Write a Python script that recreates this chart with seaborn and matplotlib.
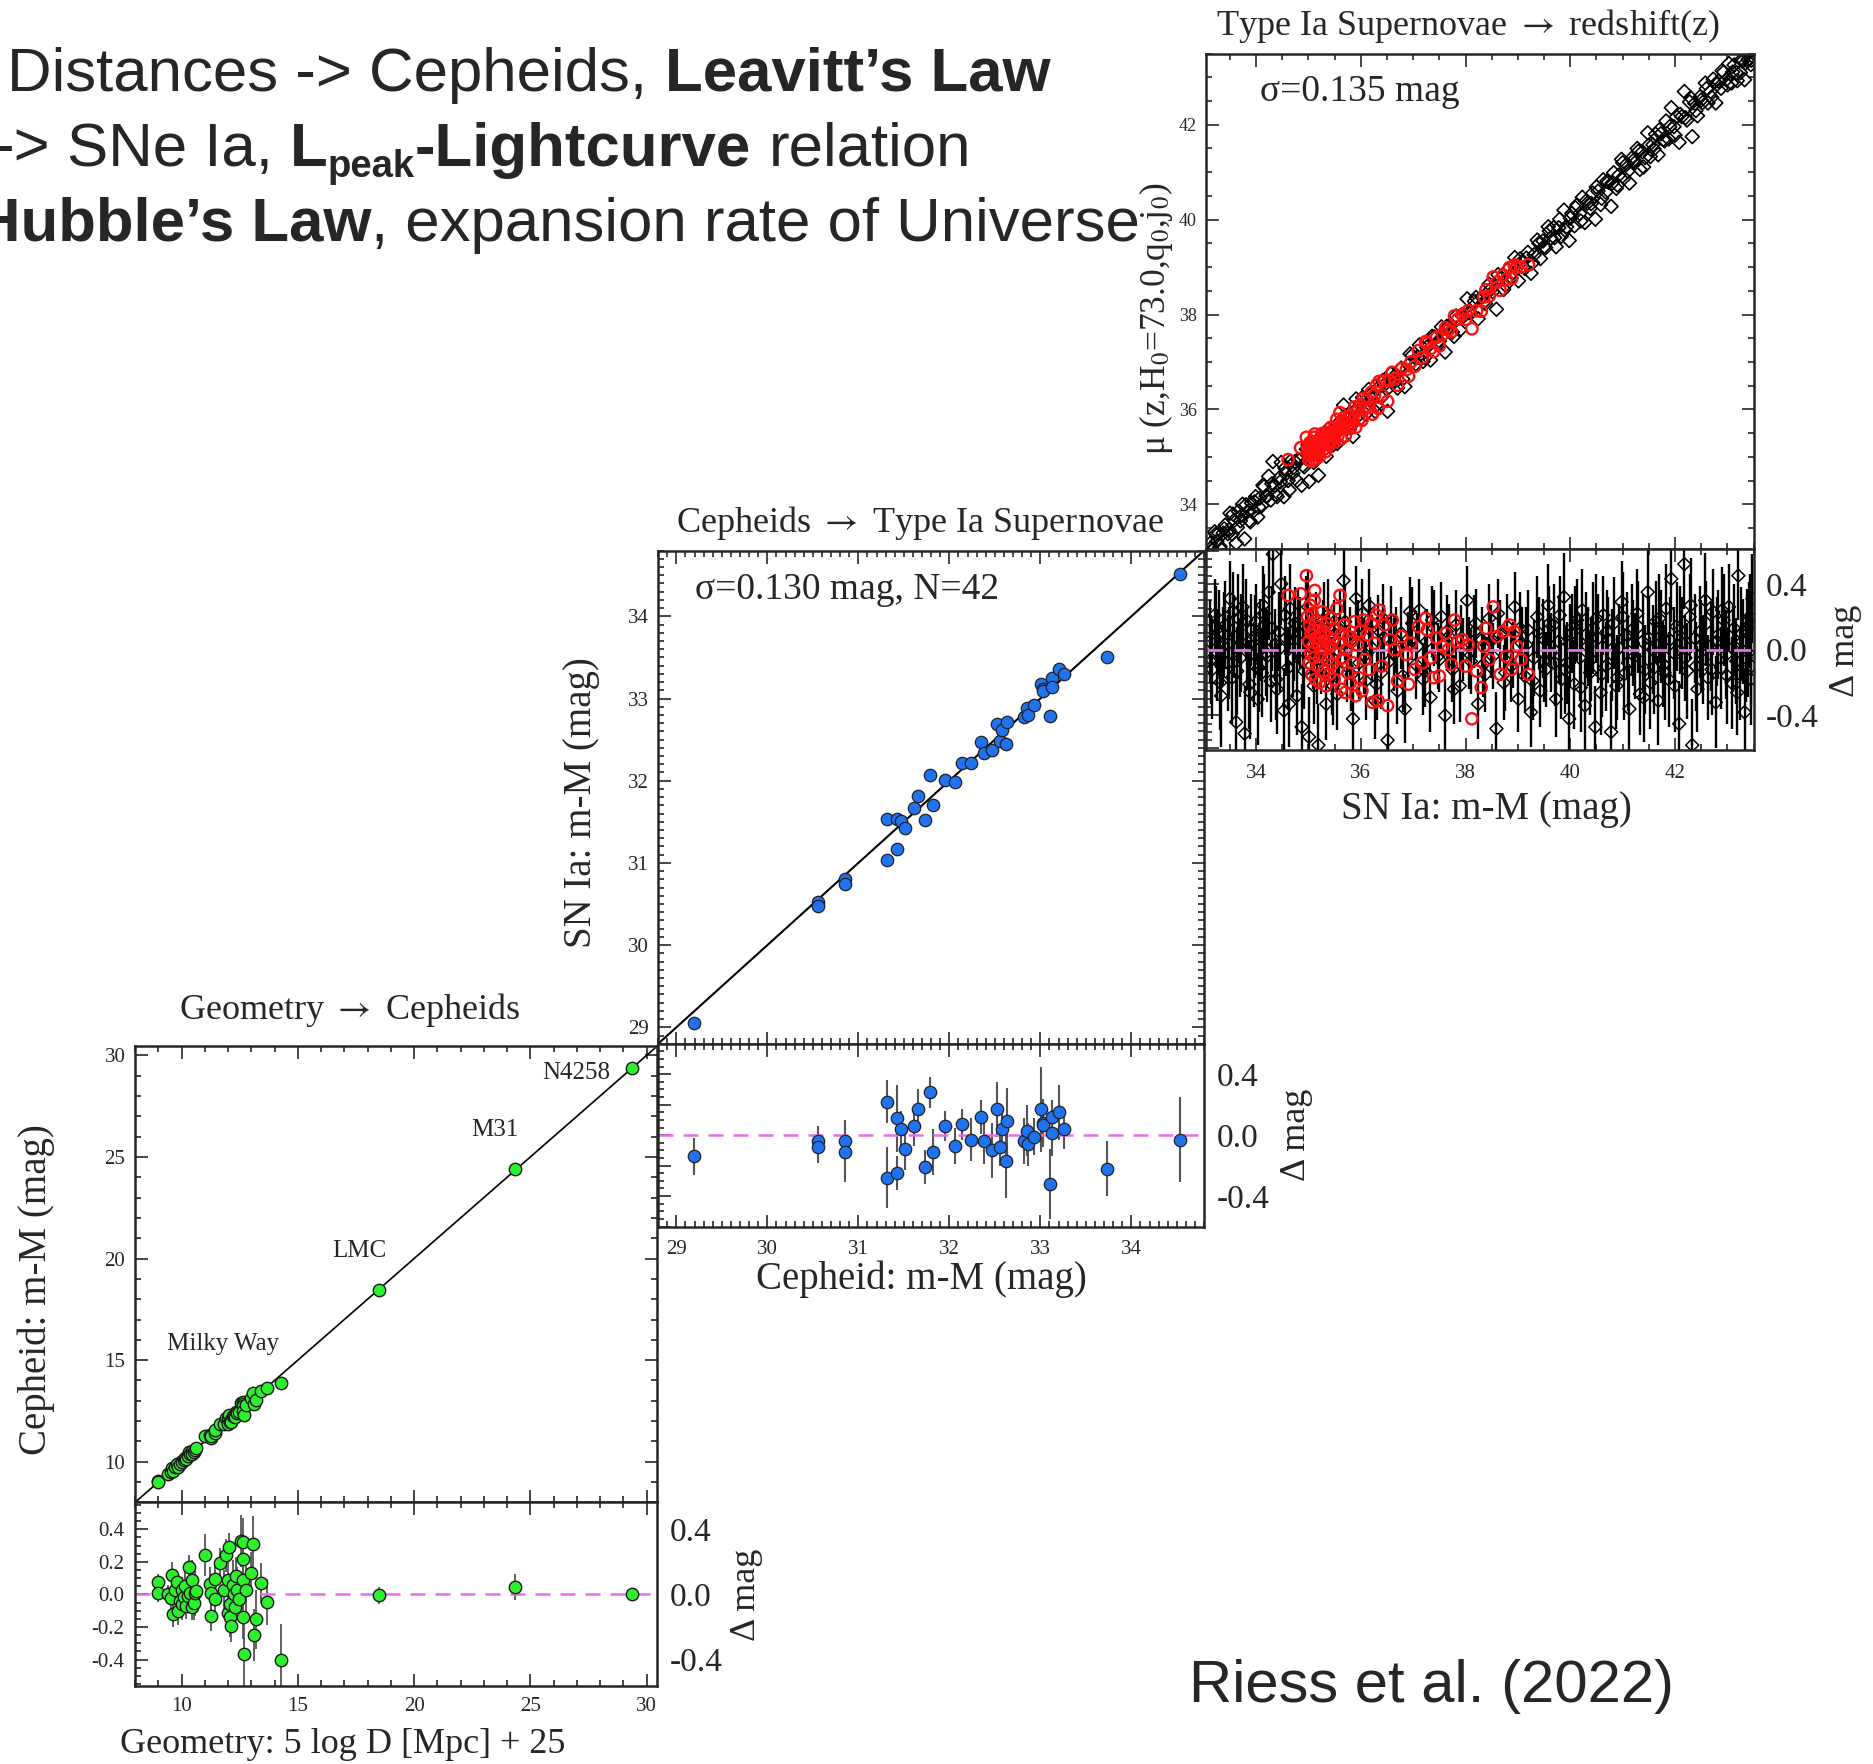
import matplotlib
matplotlib.use("Agg")
import matplotlib.pyplot as plt
from matplotlib.ticker import MultipleLocator
import numpy as np
import pandas as pd
import seaborn as sns

# ---------------- data ----------------
# Geometry -> Cepheids: Milky Way parallaxes, then LMC, M31, N4258
geo_x = [9.00, 9.00, 9.40, 9.53, 9.57, 9.64, 9.72, 9.79, 9.83, 9.94,
         10.00, 10.04, 10.10, 10.15, 10.20, 10.28, 10.32, 10.36, 10.43, 10.47,
         10.53, 10.58, 10.64, 11.03, 11.24, 11.28, 11.28, 11.45, 11.45, 11.65,
         11.82, 11.92, 11.99, 11.99, 12.03, 12.07, 12.10, 12.14, 12.20, 12.24,
         12.29, 12.35, 12.39, 12.46, 12.56, 12.63, 12.63, 12.63, 12.63, 12.67,
         12.78, 12.99, 13.06, 13.10, 13.20, 13.42, 13.67, 14.27,
         18.48, 24.36, 29.38]
geo_dmag = [0.076, 0.006, 0.000, -0.020, 0.117, -0.119, 0.030, 0.076, -0.100, -0.040,
            0.025, -0.060, -0.014, 0.050, -0.070, -0.010, 0.170, 0.010, 0.090, -0.076,
            -0.050, 0.006, 0.020, 0.240, 0.066, -0.133, 0.006, -0.030, 0.096, 0.195,
            0.030, 0.240, 0.090, -0.113, 0.290, -0.060, -0.140, -0.195, 0.060, 0.000,
            -0.080, 0.110, 0.030, -0.030, 0.330, 0.320, 0.215, 0.090, -0.137, -0.365,
            0.025, 0.133, 0.310, -0.250, -0.154, 0.070, -0.045, -0.400,
            -0.006, 0.045, 0.004]
geo_err = [0.05, 0.05, 0.06, 0.07, 0.08, 0.08, 0.06, 0.07, 0.09, 0.07,
           0.08, 0.10, 0.07, 0.09, 0.08, 0.10, 0.07, 0.09, 0.12, 0.08,
           0.11, 0.14, 0.10, 0.13, 0.10, 0.09, 0.12, 0.11, 0.10, 0.09,
           0.12, 0.10, 0.13, 0.11, 0.09, 0.14, 0.12, 0.10, 0.15, 0.13,
           0.11, 0.12, 0.14, 0.10, 0.16, 0.15, 0.13, 0.12, 0.14, 0.20,
           0.15, 0.13, 0.17, 0.16, 0.18, 0.12, 0.14, 0.22,
           0.05, 0.08, 0.035]
anchor_names = ["Milky Way", "LMC", "M31", "N4258"]
anchor_lx = [11.78, 17.66, 23.47, 26.99]
anchor_ly = [15.78, 20.37, 26.34, 29.13]

# Cepheids -> SNe Ia, 42 calibrator hosts
ceph_x = [29.19, 30.56, 30.56, 30.85, 30.85, 31.31, 31.31, 31.42, 31.43, 31.47,
          31.51, 31.61, 31.65, 31.73, 31.79, 31.82, 31.95, 32.06, 32.14, 32.24,
          32.35, 32.38, 32.47, 32.52, 32.56, 32.58, 32.62, 32.63, 32.82, 32.85,
          32.86, 32.93, 33.01, 33.03, 33.03, 33.11, 33.13, 33.13, 33.21, 33.26,
          33.73, 34.54]
ceph_dmag = [-0.14, -0.04, -0.08, -0.04, -0.11, 0.22, -0.28, -0.25, 0.11, 0.04,
             -0.09, 0.06, 0.17, -0.21, 0.28, -0.11, 0.06, -0.07, 0.07, -0.03,
             0.12, -0.04, -0.10, 0.17, -0.08, 0.04, -0.17, 0.09, -0.04, 0.03,
             -0.06, -0.01, 0.17, 0.08, 0.065, -0.32, 0.12, 0.015, 0.15, 0.04,
             -0.22, -0.03]
ceph_err = [0.12, 0.10, 0.10, 0.14, 0.20, 0.14, 0.20, 0.11, 0.22, 0.12,
            0.14, 0.13, 0.13, 0.11, 0.10, 0.15, 0.10, 0.12, 0.10, 0.14,
            0.11, 0.15, 0.18, 0.18, 0.12, 0.14, 0.24, 0.22, 0.15, 0.17,
            0.14, 0.12, 0.28, 0.16, 0.12, 0.23, 0.11, 0.15, 0.18, 0.13,
            0.18, 0.28]

# SNe Ia -> redshift: Hubble-flow SNe (black diamonds)
sn_x = [33.12, 33.16, 33.21, 33.25, 33.29, 33.33, 33.37, 33.41, 33.46, 33.50,
        33.54, 33.58, 33.62, 33.66, 33.70, 33.74, 33.78, 33.83, 33.87, 33.91,
        33.95, 33.99, 34.03, 34.07, 34.11, 34.15, 34.19, 34.24, 34.28, 34.32,
        34.36, 34.40, 34.44, 34.48, 34.53, 34.57, 34.61, 34.65, 34.70, 34.74,
        34.78, 34.83, 34.87, 34.92, 34.96, 35.01, 35.05, 35.10, 35.15, 35.19,
        35.24, 35.29, 35.34, 35.39, 35.44, 35.49, 35.55, 35.61, 35.67, 35.73,
        35.79, 35.85, 35.91, 35.97, 36.03, 36.09, 36.15, 36.21, 36.27, 36.33,
        36.39, 36.45, 36.51, 36.57, 36.63, 36.70, 36.77, 36.84, 36.91, 36.98,
        37.05, 37.12, 37.19, 37.26, 37.33, 37.40, 37.47, 37.54, 37.61, 37.68,
        37.75, 37.82, 37.89, 37.96, 38.03, 38.10, 38.17, 38.24, 38.31, 38.38,
        38.45, 38.52, 38.59, 38.66, 38.73, 38.80, 38.87, 38.94, 39.01, 39.07,
        39.13, 39.19, 39.25, 39.31, 39.37, 39.43, 39.48, 39.53, 39.58, 39.63,
        39.68, 39.73, 39.78, 39.83, 39.88, 39.93, 39.98, 40.03, 40.08, 40.13,
        40.18, 40.23, 40.28, 40.33, 40.38, 40.43, 40.48, 40.53, 40.58, 40.63,
        40.68, 40.73, 40.78, 40.83, 40.88, 40.93, 40.98, 41.03, 41.08, 41.13,
        41.18, 41.23, 41.28, 41.33, 41.38, 41.43, 41.48, 41.53, 41.58, 41.63,
        41.68, 41.73, 41.78, 41.83, 41.88, 41.93, 41.98, 42.03, 42.08, 42.13,
        42.18, 42.23, 42.28, 42.33, 42.38, 42.43, 42.48, 42.53, 42.58, 42.63,
        42.68, 42.73, 42.78, 42.83, 42.88, 42.93, 42.98, 43.03, 43.08, 43.13,
        43.17, 43.21, 43.25, 43.29, 43.33, 43.37, 43.40, 43.43, 43.46, 43.48,
        33.14, 33.23, 33.31, 33.39, 33.48, 33.56, 33.64, 33.72, 33.81, 33.89,
        33.97, 34.05, 34.13, 34.21, 34.30, 34.38, 34.46, 34.55, 34.63, 34.72,
        34.80, 34.89, 34.99, 35.08, 35.17, 35.27, 35.37, 35.47, 35.58, 35.70,
        35.82, 35.94, 36.06, 36.18, 36.30, 36.42, 36.54, 36.67, 36.80, 36.94,
        37.08, 37.22, 37.36, 37.50, 37.64, 37.78, 37.92, 38.06, 38.20, 38.34,
        38.48, 38.62, 38.76, 38.90, 39.04, 39.16, 39.28, 39.40, 39.50, 39.60,
        39.70, 39.80, 39.90, 40.00, 40.10, 40.20, 40.30, 40.40, 40.50, 40.60,
        40.70, 40.80, 40.90, 41.00, 41.10, 41.20, 41.30, 41.40, 41.50, 41.60,
        41.70, 41.80, 41.90, 42.00, 42.10, 42.20, 42.30, 42.40, 42.50, 42.60,
        42.70, 42.80, 42.90, 43.00, 43.10, 43.19, 43.27, 43.35, 43.42, 43.45]
sn_dmag = [0.05, -0.12, 0.21, -0.03, 0.10, -0.28, 0.02, 0.15, -0.08, 0.31,
           -0.17, 0.08, -0.44, 0.19, -0.05, 0.26, -0.51, 0.01, -0.21, 0.12,
           -0.09, 0.17, -0.30, 0.06, -0.14, 0.22, -0.02, 0.35, -0.19, 0.58,
           0.03, -0.24, 0.11, 0.40, -0.37, 0.07, -0.11, 0.25, -0.05, 0.16,
           -0.28, 0.10, -0.47, -0.13, 0.20, -0.53, 0.04, -0.22, 0.13, -0.58,
           -0.06, 0.18, -0.33, 0.02, -0.16, 0.09, -0.27, 0.14, 0.42, -0.10,
           0.05, -0.42, 0.31, -0.08, 0.22, -0.19, 0.27, 0.01, -0.31, 0.12,
           -0.14, 0.07, -0.55, 0.18, -0.03, -0.25, 0.10, -0.36, 0.03, 0.16,
           -0.09, 0.24, -0.18, 0.05, -0.29, 0.13, -0.04, 0.20, -0.40, 0.08,
           -0.12, 0.15, -0.22, 0.00, 0.30, -0.07, 0.11, -0.33, 0.06, -0.15,
           0.19, -0.04, -0.48, 0.09, -0.20, 0.14, -0.10, 0.26, -0.30, 0.04,
           -0.16, 0.12, -0.38, -0.05, 0.20, -0.25, 0.07, -0.12, 0.27, -0.02,
           0.15, -0.30, 0.05, -0.18, 0.32, -0.08, -0.42, 0.10, -0.21, 0.18,
           -0.05, 0.24, -0.34, 0.02, -0.14, 0.13, -0.47, 0.07, -0.26, 0.21,
           -0.10, 0.06, -0.50, 0.16, -0.22, 0.01, 0.29, -0.15, 0.09, -0.36,
           0.12, -0.04, 0.22, -0.27, 0.05, -0.12, 0.35, -0.20, 0.00, 0.17,
           -0.31, 0.08, -0.09, 0.25, -0.18, 0.43, -0.02, 0.14, -0.45, 0.04,
           0.52, -0.13, 0.20, -0.58, 0.07, -0.24, 0.11, -0.06, 0.30, -0.17,
           0.02, 0.23, -0.32, 0.09, -0.11, 0.18, -0.03, 0.26, -0.20, 0.13,
           -0.07, 0.45, -0.15, 0.05, -0.38, 0.12, -0.02, 0.20, -0.10, 0.31,
           -0.06, 0.14, -0.20, 0.09, -0.02, 0.23, -0.13, 0.04, 0.18, -0.26,
           0.08, -0.11, 0.27, -0.04, 0.13, -0.18, 0.01, 0.21, -0.33, 0.06,
           0.14, -0.07, 0.26, 0.00, -0.12, 0.07, 0.21, -0.22, -0.01, 0.17,
           -0.15, 0.09, -0.04, 0.12, -0.21, 0.19, -0.07, 0.06, -0.16, 0.23,
           0.02, -0.13, 0.18, -0.06, 0.11, -0.24, 0.07, -0.02, 0.16, -0.09,
           0.05, 0.22, -0.14, -0.03, 0.13, 0.03, -0.19, 0.10, -0.07, 0.16,
           -0.08, 0.21, -0.12, 0.03, 0.15, -0.23, 0.09, -0.06, 0.19, -0.15,
           0.11, -0.03, -0.17, 0.20, -0.08, 0.04, 0.14, -0.29, 0.07, -0.11,
           0.19, -0.14, 0.06, -0.22, 0.12, -0.05, 0.27, -0.10, 0.02, 0.16,
           -0.12, 0.05, 0.24, -0.16, 0.01, -0.26, 0.10, -0.05, 0.15, -0.18]
sn_err = [0.25, 0.30, 0.22, 0.28, 0.26, 0.31, 0.24, 0.27, 0.29, 0.23,
          0.28, 0.25, 0.30, 0.27, 0.24, 0.26, 0.29, 0.25, 0.27, 0.22,
          0.26, 0.23, 0.28, 0.25, 0.27, 0.24, 0.26, 0.29, 0.25, 0.24,
          0.22, 0.27, 0.24, 0.25, 0.26, 0.23, 0.25, 0.27, 0.24, 0.22,
          0.24, 0.22, 0.26, 0.23, 0.25, 0.24, 0.21, 0.23, 0.22, 0.25,
          0.21, 0.23, 0.22, 0.20, 0.24, 0.21, 0.22, 0.23, 0.20, 0.22,
          0.21, 0.23, 0.20, 0.22, 0.21, 0.24, 0.22, 0.20, 0.23, 0.21,
          0.22, 0.20, 0.23, 0.21, 0.22, 0.20, 0.22, 0.21, 0.20, 0.22,
          0.21, 0.19, 0.22, 0.20, 0.21, 0.23, 0.20, 0.21, 0.22, 0.20,
          0.20, 0.21, 0.22, 0.19, 0.21, 0.20, 0.22, 0.21, 0.20, 0.23,
          0.21, 0.20, 0.22, 0.21, 0.23, 0.20, 0.22, 0.21, 0.20, 0.22,
          0.22, 0.24, 0.21, 0.23, 0.25, 0.22, 0.24, 0.23, 0.25, 0.24,
          0.25, 0.23, 0.26, 0.24, 0.27, 0.25, 0.26, 0.24, 0.27, 0.25,
          0.26, 0.25, 0.27, 0.24, 0.26, 0.28, 0.25, 0.27, 0.26, 0.24,
          0.27, 0.26, 0.25, 0.28, 0.26, 0.27, 0.25, 0.28, 0.26, 0.27,
          0.28, 0.26, 0.27, 0.25, 0.29, 0.27, 0.26, 0.28, 0.27, 0.25,
          0.27, 0.28, 0.26, 0.27, 0.29, 0.26, 0.28, 0.27, 0.26, 0.28,
          0.27, 0.29, 0.26, 0.28, 0.27, 0.26, 0.28, 0.27, 0.29, 0.26,
          0.27, 0.26, 0.28, 0.27, 0.25, 0.28, 0.27, 0.26, 0.28, 0.27,
          0.26, 0.27, 0.28, 0.26, 0.27, 0.25, 0.27, 0.26, 0.25, 0.27,
          0.27, 0.25, 0.29, 0.26, 0.28, 0.24, 0.27, 0.30, 0.25, 0.28,
          0.25, 0.27, 0.24, 0.28, 0.26, 0.25, 0.27, 0.24, 0.26, 0.25,
          0.23, 0.25, 0.22, 0.24, 0.21, 0.23, 0.22, 0.24, 0.21, 0.23,
          0.22, 0.21, 0.23, 0.20, 0.22, 0.21, 0.23, 0.20, 0.22, 0.21,
          0.20, 0.22, 0.21, 0.20, 0.22, 0.21, 0.20, 0.22, 0.21, 0.20,
          0.22, 0.21, 0.23, 0.20, 0.22, 0.23, 0.24, 0.22, 0.25, 0.23,
          0.26, 0.24, 0.27, 0.25, 0.24, 0.27, 0.26, 0.25, 0.27, 0.26,
          0.25, 0.28, 0.26, 0.27, 0.29, 0.26, 0.28, 0.27, 0.25, 0.28,
          0.27, 0.29, 0.26, 0.28, 0.27, 0.26, 0.29, 0.27, 0.28, 0.26,
          0.28, 0.27, 0.26, 0.29, 0.27, 0.26, 0.28, 0.27, 0.26, 0.28]

# SNe Ia in Cepheid hosts / low-z sample (red circles)
cal_x = [34.61, 34.85, 34.96, 34.98, 35.00, 35.01, 35.02, 35.03, 35.04, 35.05,
         35.06, 35.07, 35.08, 35.09, 35.10, 35.11, 35.12, 35.13, 35.14, 35.15,
         35.17, 35.18, 35.20, 35.21, 35.23, 35.24, 35.26, 35.27, 35.29, 35.30,
         35.32, 35.33, 35.35, 35.37, 35.38, 35.40, 35.42, 35.43, 35.45, 35.47,
         35.49, 35.50, 35.52, 35.54, 35.56, 35.58, 35.60, 35.62, 35.64, 35.66,
         35.68, 35.70, 35.72, 35.75, 35.77, 35.80, 35.82, 35.85, 35.88, 35.90,
         35.93, 35.96, 35.99, 36.02, 36.05, 36.08, 36.12, 36.16, 36.20, 36.22,
         36.26, 36.30, 36.33, 36.35, 36.40, 36.45, 36.51, 36.55, 36.60, 36.64,
         36.70, 36.78, 36.87, 36.91, 36.96, 37.03, 37.10, 37.17, 37.24, 37.27,
         37.33, 37.39, 37.45, 37.50, 37.56, 37.62, 37.67, 37.73, 37.79, 37.85,
         37.94, 38.00, 38.05, 38.12, 38.21, 38.30, 38.35, 38.39, 38.45, 38.53,
         38.60, 38.66, 38.72, 38.78, 38.84, 38.88, 38.93, 38.98, 39.06, 39.20]
cal_dmag = [0.33, 0.34, 0.45, 0.20, 0.05, -0.08, 0.15, 0.27, -0.02, 0.10,
            -0.15, 0.22, 0.02, 0.12, -0.05, 0.30, 0.36, -0.18, 0.07, 0.18,
            -0.10, 0.04, 0.14, -0.20, 0.09, -0.03, 0.23, 0.01, -0.13, 0.11,
            0.05, -0.22, 0.16, -0.06, 0.08, -0.15, 0.02, 0.19, -0.09, 0.06,
            -0.18, 0.12, -0.02, 0.25, -0.12, 0.04, 0.33, -0.24, 0.10, -0.05,
            0.15, -0.26, 0.00, -0.14, 0.08, -0.20, 0.05, -0.08, 0.17, -0.28,
            0.03, -0.17, 0.11, -0.25, 0.18, -0.06, 0.09, -0.12, 0.16, -0.32,
            0.04, 0.21, -0.31, 0.24, -0.10, 0.15, -0.34, 0.06, 0.18, 0.00,
            -0.19, 0.08, -0.03, -0.21, 0.04, -0.12, 0.14, -0.08, 0.19, 0.12,
            -0.05, -0.17, 0.07, -0.16, 0.02, 0.10, 0.00, -0.09, 0.18, 0.05,
            0.06, -0.10, 0.03, -0.42, -0.13, -0.23, 0.02, 0.13, -0.06, 0.26,
            0.08, -0.15, 0.11, -0.04, 0.15, -0.12, 0.11, 0.02, -0.06, -0.15]

# ---------------- style ----------------
sns.set_style("ticks")
plt.rcParams["font.family"] = ["Liberation Serif", "DejaVu Serif"]
plt.rcParams["mathtext.fontset"] = "stix"
plt.rcParams["axes.unicode_minus"] = False
SANS = ["Liberation Sans", "DejaVu Sans"]
MAGENTA = "#e56fe8"
GREEN = "#2cf02c"
BLUE = "#1f72f0"
RED = "#ff1010"

geo = pd.DataFrame({"x": geo_x, "dmag": geo_dmag, "err": geo_err})
geo["y"] = geo["x"] + geo["dmag"]
ceph = pd.DataFrame({"x": ceph_x, "dmag": ceph_dmag, "err": ceph_err})
ceph["y"] = ceph["x"] + ceph["dmag"]
sn = pd.DataFrame({"x": sn_x, "dmag": sn_dmag, "err": sn_err})
sn["y"] = sn["x"] + sn["dmag"]
cal = pd.DataFrame({"x": cal_x, "dmag": cal_dmag})
cal["y"] = cal["x"] + cal["dmag"]

fig = plt.figure(figsize=(18.73, 17.64), dpi=100)
bg = fig.add_axes([0, 0, 1, 1])
bg.set_axis_off()

ax_tr = fig.add_axes([0.6441, 0.6886, 0.2921, 0.2810])
ax_trr = fig.add_axes([0.6441, 0.5748, 0.2921, 0.1138], sharex=ax_tr)
ax_md = fig.add_axes([0.3514, 0.4083, 0.2915, 0.2796])
ax_mdr = fig.add_axes([0.3514, 0.3047, 0.2915, 0.1036], sharex=ax_md)
ax_bl = fig.add_axes([0.0721, 0.1483, 0.2787, 0.2586])
ax_blr = fig.add_axes([0.0721, 0.0440, 0.2787, 0.1043], sharex=ax_bl)


def style(ax, xmaj, xmin, ymaj, ymin, size=15):
    ax.xaxis.set_major_locator(MultipleLocator(xmaj))
    ax.xaxis.set_minor_locator(MultipleLocator(xmin))
    ax.yaxis.set_major_locator(MultipleLocator(ymaj))
    ax.yaxis.set_minor_locator(MultipleLocator(ymin))
    ax.tick_params(which="both", direction="in", top=True, right=True,
                   width=1.2, labelsize=size, pad=7)
    ax.tick_params(which="major", length=9)
    ax.tick_params(which="minor", length=4.5)
    for s in ax.spines.values():
        s.set_linewidth(1.8)
    ax.set_xlabel("")
    ax.set_ylabel("")


def right_labels(ax, size=24):
    tw = ax.twinx()
    tw.set_ylim(ax.get_ylim())
    ticks = [0.4, 0.0, -0.4]
    tw.set_yticks(ticks)
    tw.set_yticklabels([f"{t:.1f}" for t in ticks])
    tw.tick_params(axis="y", length=0, labelsize=size, pad=9)
    for s in tw.spines.values():
        s.set_visible(False)


# ---- top right: SNe Ia vs redshift ----
lim = (33.05, 43.5)
ax_tr.plot(lim, lim, color="k", lw=1.2, zorder=1)
sns.scatterplot(data=sn, x="x", y="y", ax=ax_tr, marker="D", s=50,
                facecolor="none", edgecolor="k", linewidth=1.2, zorder=2)
sns.scatterplot(data=cal, x="x", y="y", ax=ax_tr, marker="o", s=68,
                facecolor="none", edgecolor=RED, linewidth=1.7, zorder=3)
ax_tr.set_xlim(lim)
ax_tr.set_ylim(lim)
style(ax_tr, 2, 0.5, 2, 0.5, size=13)
ax_tr.tick_params(labelbottom=False)

ax_trr.errorbar(sn["x"], sn["dmag"], yerr=sn["err"], fmt="none",
                ecolor="k", elinewidth=1.7, zorder=1)
sns.scatterplot(data=sn, x="x", y="dmag", ax=ax_trr, marker="D", s=44,
                facecolor="none", edgecolor="k", linewidth=1.1, zorder=2)
ax_trr.axhline(0, color=MAGENTA, lw=2.0, ls=(0, (6, 4)), zorder=2.5)
sns.scatterplot(data=cal, x="x", y="dmag", ax=ax_trr, marker="o", s=66,
                facecolor="none", edgecolor=RED, linewidth=1.7, zorder=3)
ax_trr.set_ylim(-0.61, 0.61)
style(ax_trr, 2, 0.5, 0.2, 0.05)
ax_trr.tick_params(labelleft=False, pad=10)
right_labels(ax_trr)

# ---- middle: Cepheids vs SNe Ia ----
lim = (28.8, 34.8)
ax_md.plot(lim, lim, color="k", lw=1.5, zorder=1)
sns.scatterplot(data=ceph, x="x", y="y", ax=ax_md, color=BLUE, s=80,
                edgecolor="#222222", linewidth=0.9, zorder=3)
ax_md.set_xlim(lim)
ax_md.set_ylim(lim)
style(ax_md, 1, 0.1, 1, 0.1)
ax_md.tick_params(labelbottom=False)

ax_mdr.errorbar(ceph["x"], ceph["dmag"], yerr=ceph["err"], fmt="none",
                ecolor="#555555", elinewidth=1.5, zorder=1)
ax_mdr.axhline(0, color=MAGENTA, lw=1.8, ls=(0, (6, 4)), zorder=2)
sns.scatterplot(data=ceph, x="x", y="dmag", ax=ax_mdr, color=BLUE, s=80,
                edgecolor="#222222", linewidth=0.9, zorder=3)
ax_mdr.set_ylim(-0.6, 0.6)
style(ax_mdr, 1, 0.1, 0.2, 0.05)
ax_mdr.tick_params(labelleft=False, pad=10)
right_labels(ax_mdr)

# ---- bottom left: geometry vs Cepheids ----
lim = (8.0, 30.45)
ax_bl.plot(lim, lim, color="k", lw=1.2, zorder=1)
sns.scatterplot(data=geo, x="x", y="y", ax=ax_bl, color=GREEN, s=80,
                edgecolor="#1a1a1a", linewidth=1.0, zorder=3)
for name, lx, ly in zip(anchor_names, anchor_lx, anchor_ly):
    ax_bl.text(lx, ly, name, ha="center", va="center", fontsize=18)
ax_bl.set_xlim(lim)
ax_bl.set_ylim(lim)
style(ax_bl, 5, 1, 5, 1)
ax_bl.tick_params(labelbottom=False)

ax_blr.errorbar(geo["x"], geo["dmag"], yerr=geo["err"], fmt="none",
                ecolor="#555555", elinewidth=1.3, zorder=1)
ax_blr.axhline(0, color=MAGENTA, lw=1.8, ls=(0, (6, 4)), zorder=2)
sns.scatterplot(data=geo, x="x", y="dmag", ax=ax_blr, color=GREEN, s=80,
                edgecolor="#1a1a1a", linewidth=1.0, zorder=3)
ax_blr.set_ylim(-0.565, 0.565)
style(ax_blr, 5, 1, 0.2, 0.05)
ax_blr.tick_params(pad=8)
right_labels(ax_blr)

# ---- panel titles and axis labels ----
ARROW = r" $\rightarrow$ "
fig.text(0.7838, 0.9851, "Type Ia Supernovae" + ARROW + "redshift(z)", ha="center", va="center", fontsize=26)
fig.text(0.4911, 0.7034, "Cepheids" + ARROW + "Type Ia Supernovae", ha="center", va="center", fontsize=26)
fig.text(0.1869, 0.4272, "Geometry" + ARROW + "Cepheids", ha="center", va="center", fontsize=26)

fig.text(0.6173, 0.8192, "μ (z,H$_0$=73.0,q$_0$,j$_0$)", rotation=90, ha="center", va="center", fontsize=25.5)
fig.text(0.3106, 0.5450, "SN Ia: m-M (mag)", rotation=90, ha="center", va="center", fontsize=28)
fig.text(0.0191, 0.2688, "Cepheid: m-M (mag)", rotation=90, ha="center", va="center", fontsize=28)

fig.text(0.7934, 0.5410, "SN Ia: m-M (mag)", ha="center", va="center", fontsize=28)
fig.text(0.4917, 0.2749, "Cepheid: m-M (mag)", ha="center", va="center", fontsize=28)
fig.text(0.1830, 0.0108, "Geometry: 5 log D [Mpc] + 25", ha="center", va="center", fontsize=26)

for x, y in [(0.9853, 0.6310), (0.6920, 0.3568), (0.3986, 0.0961)]:
    fig.text(x, y, "Δ mag", rotation=90, ha="center", va="center", fontsize=26)

fig.text(0.6728, 0.9479, "σ=0.135 mag", ha="left", va="center", fontsize=27)
fig.text(0.3712, 0.6655, "σ=0.130 mag, N=42", ha="left", va="center", fontsize=27)


# ---- slide text (sans serif) ----
def slide_line(x, y, pieces, size=44.5):
    prev = None
    for txt, weight, gap, dy, scale in pieces:
        kw = dict(fontsize=size * scale, fontweight=weight, family=SANS,
                  va="baseline", ha="left")
        if prev is None:
            prev = bg.text(x, y, txt, transform=fig.transFigure, **kw)
        else:
            prev = bg.annotate(txt, xy=(1, y), xycoords=(prev, "figure fraction"),
                               xytext=(gap, dy), textcoords="offset points",
                               annotation_clip=False, **kw)


SP = 12.4
slide_line(0.004, 0.9485, [("Distances -> Cepheids,", "normal", 0, 0, 1),
                           ("Leavitt’s Law", "bold", SP, 0, 1)])
slide_line(-0.0037, 0.9060, [("->", "normal", 0, 0, 1),
                             ("SNe Ia,", "normal", SP, 0, 1),
                             ("L", "bold", SP, 0, 1),
                             ("peak", "bold", 0, -8, 0.62),
                             ("-Lightcurve", "bold", 0, 0, 1),
                             ("relation", "normal", SP, 0, 1)])
slide_line(-0.0128, 0.8634, [("Hubble’s Law", "bold", 0, 0, 1),
                             (", expansion rate of Universe", "normal", 0, 0, 1)])
fig.text(0.6346, 0.0352, "Riess et al. (2022)", ha="left", va="baseline",
         fontsize=43, family=SANS)

fig.savefig("out.png", dpi=100)
